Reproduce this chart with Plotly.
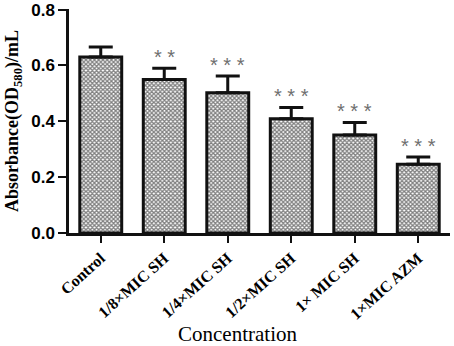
import plotly.graph_objects as go

categories = ["Control", "1/8×MIC SH", "1/4×MIC SH", "1/2×MIC SH", "1× MIC SH", "1×MIC AZM"]
means = [0.630, 0.550, 0.502, 0.409, 0.351, 0.246]
errors = [0.036, 0.040, 0.060, 0.040, 0.045, 0.026]
stars = ["", "* *", "* * *", "* * *", "* * *", "* * *"]
y_ticks = [0.0, 0.2, 0.4, 0.6, 0.8]

SERIF = "Liberation Serif"

fig = go.Figure()
fig.add_trace(go.Bar(
    x=categories, y=means, width=0.66,
    marker=dict(color="white", line=dict(color="#111", width=3),
                pattern=dict(shape="x", fgcolor="black", bgcolor="white", size=3, solidity=0.68)),
    error_y=dict(type="data", array=errors, arrayminus=[0]*len(errors), symmetric=False,
                 color="#111", thickness=3, width=12),
))

for c, m, e, s in zip(categories, means, errors, stars):
    if s:
        fig.add_annotation(x=c, y=m + e + 0.04, text=s, showarrow=False, yanchor="middle",
                           font=dict(family="Liberation Sans", size=20, color="#6f6f6f"))

fig.add_annotation(x=0.441, xref="paper", y=-0.45, yref="paper", text="Concentration",
                   showarrow=False, font=dict(family=SERIF, size=21, color="black"),
                   yanchor="middle")

fig.update_layout(
    width=454, height=346, plot_bgcolor="white", paper_bgcolor="white",
    font=dict(family=SERIF),
    margin=dict(l=69, r=4, t=9, b=113, autoexpand=False), showlegend=False,
    xaxis=dict(range=[-0.5, 5.5], showline=True, linecolor="#111", linewidth=2.5, automargin=False,
               ticks="outside", ticklen=7, tickwidth=2, tickcolor="#111", tickangle=-42,
               tickfont=dict(family=SERIF, size=16, color="black", weight="bold")),
    yaxis=dict(range=[0, 0.802], tickvals=y_ticks, tickformat=".1f", showline=True, linecolor="#111",
               linewidth=2.5, ticks="outside", ticklen=8, tickwidth=2, tickcolor="#111",
               showgrid=False, zeroline=False, automargin=False, ticklabeloverflow="allow",
               tickfont=dict(family="Liberation Sans", size=17, color="black", weight="bold"),
               title=dict(text="Absorbance(OD<sub>580</sub>)/mL", standoff=8,
                          font=dict(family=SERIF, size=18, color="black", weight="bold"))),
)

fig.write_html("out.html", config={"displayModeBar": False},
               post_script="document.body.style.margin='0';")
